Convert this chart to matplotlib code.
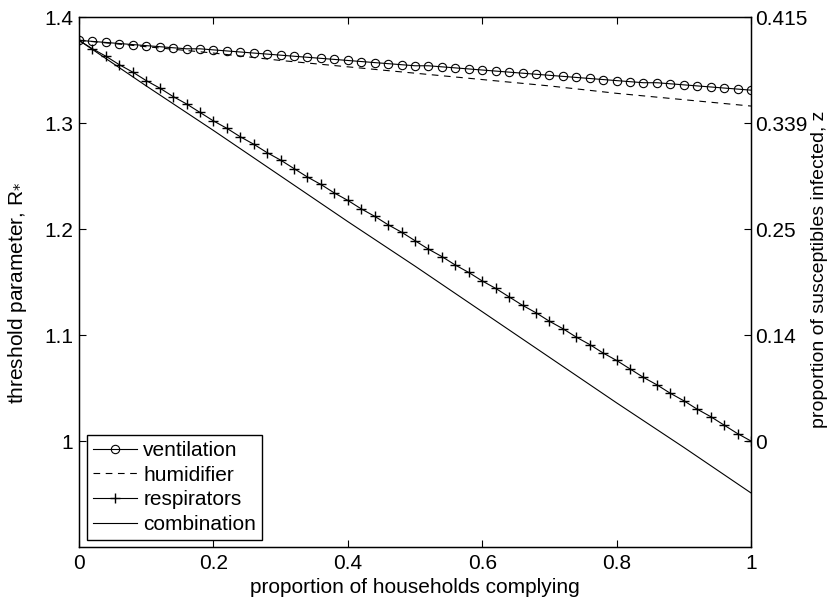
import numpy as np
import matplotlib
matplotlib.use("Agg")
import matplotlib.pyplot as plt

plt.rcParams['font.family'] = ['Liberation Sans', 'DejaVu Sans']
plt.rcParams['font.size'] = 15

# proportion of households complying (markers every 0.02)
p = np.linspace(0, 1, 51)
ventilation = [1.378, 1.377, 1.376, 1.375, 1.374, 1.373, 1.372, 1.371, 1.370, 1.370,
               1.369, 1.368, 1.367, 1.366, 1.365, 1.364, 1.363, 1.362, 1.361, 1.360,
               1.359, 1.358, 1.357, 1.356, 1.355, 1.354, 1.354, 1.353, 1.352, 1.351,
               1.350, 1.349, 1.348, 1.347, 1.346, 1.345, 1.344, 1.343, 1.342, 1.341,
               1.340, 1.339, 1.338, 1.338, 1.337, 1.336, 1.335, 1.334, 1.333, 1.332,
               1.331]
respirators = [1.378, 1.370, 1.363, 1.355, 1.348, 1.340, 1.333, 1.325, 1.318, 1.310,
               1.302, 1.295, 1.287, 1.280, 1.272, 1.265, 1.257, 1.249, 1.242, 1.234,
               1.227, 1.219, 1.212, 1.204, 1.197, 1.189, 1.181, 1.174, 1.166, 1.159,
               1.151, 1.144, 1.136, 1.128, 1.121, 1.113, 1.106, 1.098, 1.091, 1.083,
               1.076, 1.068, 1.060, 1.053, 1.045, 1.038, 1.030, 1.023, 1.015, 1.007,
               1.000]

p_line = [0, 0.1, 0.2, 0.3, 0.4, 0.5, 0.6, 0.7, 0.8, 0.9, 1.0]
humidifier = [1.378, 1.372, 1.366, 1.359, 1.353, 1.347, 1.341, 1.335, 1.328, 1.322, 1.316]
combination = [1.378, 1.335, 1.293, 1.250, 1.207, 1.165, 1.122, 1.079, 1.036, 0.994, 0.951]

r_ticks = [1, 1.1, 1.2, 1.3, 1.4]
z_labels = ['0', '0.14', '0.25', '0.339', '0.415']

fig = plt.figure(figsize=(8.3, 5.99), dpi=100)
ax = fig.add_axes([0.0952, 0.0868, 0.8096, 0.8848])

lw = 0.8
ax.plot(p, ventilation, '-o', color='black', lw=lw, ms=6, mfc='none', mew=0.8, label='ventilation')
ax.plot(p_line, humidifier, '--', color='black', lw=lw, dashes=(6, 5), label='humidifier')
ax.plot(p, respirators, '-+', color='black', lw=lw, ms=6.5, mew=1.0, label='respirators')
ax.plot(p_line, combination, '-', color='black', lw=lw, label='combination')

ax.set_xlim(0, 1)
ax.set_ylim(0.9, 1.4)
ax.set_xticks([0, 0.2, 0.4, 0.6, 0.8, 1])
ax.set_xticklabels(['0', '0.2', '0.4', '0.6', '0.8', '1'])
ax.set_yticks(r_ticks)
ax.set_yticklabels(['1', '1.1', '1.2', '1.3', '1.4'])
ax.tick_params(direction='in', length=5, width=0.8, top=True, right=False, pad=4)
ax.tick_params(axis='x', pad=5)
for s in ax.spines.values():
    s.set_linewidth(1.0)

ax2 = ax.twinx()
ax2.set_ylim(0.9, 1.4)
ax2.set_yticks(r_ticks)
ax2.set_yticklabels(z_labels)
ax2.tick_params(direction='in', length=5, width=0.8, pad=3)

fig.text(0.5, 0.02, 'proportion of households complying', ha='center', va='center')
fig.text(0.021, 0.511, r'threshold parameter, R$_{*}$', rotation=90, ha='center', va='center')
fig.text(0.9875, 0.55, 'proportion of susceptibles infected, z', rotation=90,
         ha='center', va='center', fontsize=14)

leg = ax.legend(loc='lower left', bbox_to_anchor=(0.012, 0.013), frameon=True, fancybox=False,
                edgecolor='black', framealpha=1, borderpad=0.3, labelspacing=0.27,
                handlelength=2.1, handletextpad=0.3, borderaxespad=0)
leg.get_frame().set_linewidth(1.0)

fig.savefig('out.png', dpi=100)
